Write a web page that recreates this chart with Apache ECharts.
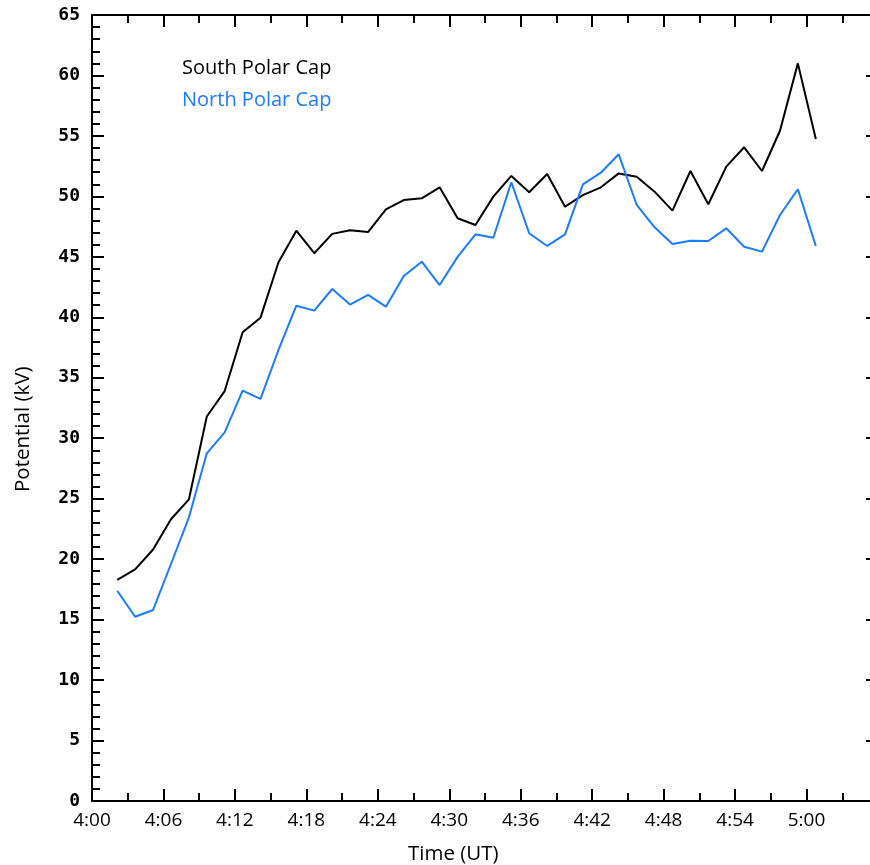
<!DOCTYPE html>
<html>
<head>
<meta charset="utf-8">
<script src="https://cdn.jsdelivr.net/npm/echarts@6/dist/echarts.min.js"></script>
<style>
html,body{margin:0;padding:0;overflow:hidden;background:#fff;}
#chart{width:880px;height:865px;}
</style>
</head>
<body>
<div id="chart"></div>
<script>
// Time in minutes after 4:00 UT
const times = [2.12, 3.62, 5.13, 6.63, 8.14, 9.64, 11.14, 12.65, 14.15, 15.66,
  17.16, 18.66, 20.17, 21.67, 23.18, 24.68, 26.18, 27.69, 29.19, 30.70,
  32.20, 33.70, 35.21, 36.71, 38.22, 39.72, 41.22, 42.73, 44.23, 45.74,
  47.24, 48.74, 50.25, 51.75, 53.26, 54.76, 56.26, 57.77, 59.27, 60.78];
const southPolarCap = [18.28, 19.16, 20.8, 23.3, 24.95, 31.8, 33.9, 38.76, 39.97, 44.55,
  47.16, 45.3, 46.9, 47.2, 47.05, 48.93, 49.7, 49.84, 50.75, 48.19,
  47.63, 49.98, 51.69, 50.34, 51.85, 49.15, 50.1, 50.75, 51.9, 51.63,
  50.39, 48.82, 52.1, 49.35, 52.46, 54.06, 52.1, 55.43, 61.0, 54.75];
const northPolarCap = [17.39, 15.24, 15.8, 19.6, 23.46, 28.75, 30.49, 33.93, 33.25, 37.3,
  40.96, 40.55, 42.34, 41.05, 41.85, 40.88, 43.42, 44.6, 42.67, 45.0,
  46.86, 46.58, 51.17, 46.95, 45.9, 46.86, 51.0, 51.96, 53.48, 49.29,
  47.44, 46.06, 46.34, 46.31, 47.36, 45.84, 45.43, 48.46, 50.59, 45.9];
const xTickLabels = ['4:00','4:06','4:12','4:18','4:24','4:30','4:36','4:42','4:48','4:54','5:00','5:06'];
const seriesNames = ['South Polar Cap', 'North Polar Cap'];
const seriesColors = ['#000000', '#1a7cff'];

const chart = echarts.init(document.getElementById('chart'), null, {renderer:'canvas'});
const axisLine = {show:true, onZero:false, lineStyle:{color:'#000', width:2}};
const tick = {show:true, inside:true, length:12, lineStyle:{color:'#000', width:2}};
const minorY = {show:true, splitNumber:5, length:8, lineStyle:{color:'#000', width:2}};
const minorX = {show:true, splitNumber:2, length:8, lineStyle:{color:'#000', width:2}};

const option = {
  animation:false,
  backgroundColor:'#fff',
  grid:{left:92, right:2, top:15, bottom:64, containLabel:false, outerBoundsMode:'none'},
  legend:{
    show:true, orient:'vertical', left:172, top:53, itemWidth:0, itemHeight:0, itemGap:12,
    icon:'rect', selectedMode:false,
    data: seriesNames.map((n,i)=>({name:n, textStyle:{color:seriesColors[i]}})),
    textStyle:{fontFamily:'Open Sans', fontSize:20}
  },
  xAxis:[
    {type:'value', position:'bottom', min:0, max:66, interval:6,
     axisLine, axisTick:tick, minorTick:minorX, splitLine:{show:false}, minorSplitLine:{show:false},
     axisLabel:{show:true, margin:10, color:'#000', fontFamily:'Open Sans', fontSize:19, showMaxLabel:false,
       formatter:(v)=>xTickLabels[Math.round(v/6)]}},
    {type:'value', position:'top', min:0, max:66, interval:6,
     axisLine, axisTick:tick, minorTick:minorX, splitLine:{show:false}, axisLabel:{show:false}}
  ],
  yAxis:[
    {type:'value', position:'left', min:0, max:65, interval:5,
     axisLine, axisTick:tick, minorTick:minorY, splitLine:{show:false},
     axisLabel:{show:true, margin:12, color:'#000', fontFamily:'DejaVu Sans Mono', fontWeight:'bold', fontSize:18}},
    {type:'value', position:'right', min:0, max:65, interval:5,
     axisLine, axisTick:tick, minorTick:minorY, splitLine:{show:false}, axisLabel:{show:false}}
  ],
  graphic:[
    {type:'text', left:408, top:844, style:{text:'Time (UT)', font:'20.5px "Open Sans"', fill:'#000'}},
    {type:'text', rotation:Math.PI/2, x:13, y:492, style:{text:'Potential (kV)', font:'20.5px "Open Sans"', fill:'#000'}}
  ],
  series:[
    {name:seriesNames[0], type:'line', xAxisIndex:0, yAxisIndex:0, showSymbol:false, symbol:'none',
     lineStyle:{color:seriesColors[0], width:2}, itemStyle:{color:seriesColors[0]},
     data: times.map((t,i)=>[t, southPolarCap[i]])},
    {name:seriesNames[1], type:'line', xAxisIndex:0, yAxisIndex:0, showSymbol:false, symbol:'none',
     lineStyle:{color:seriesColors[1], width:2}, itemStyle:{color:seriesColors[1]},
     data: times.map((t,i)=>[t, northPolarCap[i]])}
  ]
};
chart.setOption(option);
</script>
</body>
</html>
